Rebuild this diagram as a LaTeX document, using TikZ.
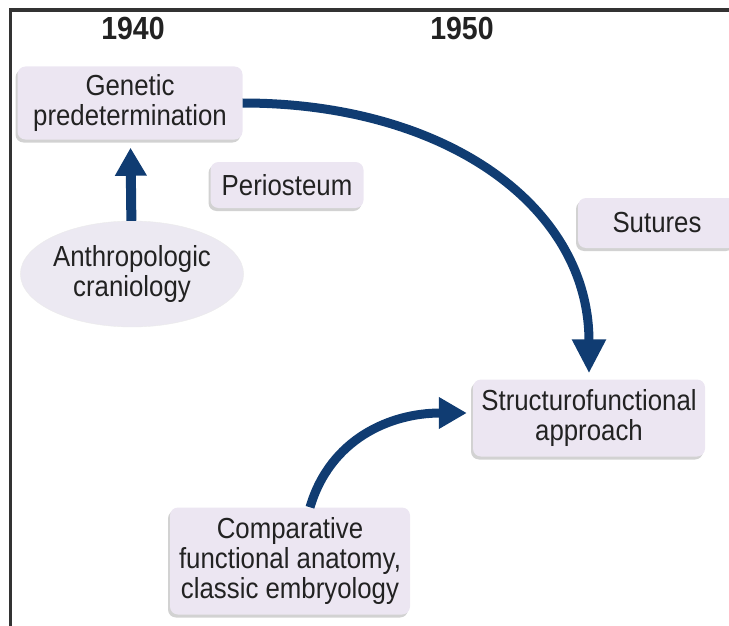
\documentclass[tikz,border=0pt]{standalone}
\usepackage{fontspec}
\setmainfont[FakeStretch=0.89]{Liberation Sans}
\usepackage{xcolor}
\usepackage{tikz}
\usetikzlibrary{shadows}
\usetikzlibrary{positioning}
\usetikzlibrary{arrows.meta,shapes}
\definecolor{boxfill}{HTML}{ECE6F2}
\definecolor{ovalfill}{HTML}{ECE9F2}
\definecolor{arrowblue}{HTML}{103C72}
\definecolor{txt}{HTML}{222222}
\tikzstyle{box}=[rectangle,rounded corners=8pt,fill=boxfill,text=txt,align=center,inner sep=0pt,font=\fontsize{29}{30}\selectfont,drop shadow={shadow xshift=-2pt,shadow yshift=-3pt,fill=black!35,opacity=0.5}]
\tikzstyle{oval}=[ellipse,fill=ovalfill,draw=black!8,text=txt,align=center,inner sep=0pt,font=\fontsize{29}{30}\selectfont]
\tikzstyle{edge} = [draw=arrowblue,line width=10pt,-{Triangle[width=30pt,length=28pt]}]
\tikzstyle{year} = [font=\fontsize{32}{34}\selectfont\bfseries,text=txt]

\begin{document}
\begin{tikzpicture}[x=1pt,y=-1pt]

  \useasboundingbox (0,0) rectangle (729,626);
  \draw[line width=3.5pt,black!80] (10.5,626) -- (10.5,10) -- (729,10);

  \node[year] (y1940) at (133,28) {1940};
  \node[year] (y1950) at (462,28) {1950};

   \foreach \x/\y/\w/\h/\name/\label in {130/103/225/73/gen/{Genetic\\predetermination},
          287/185/153/46/peri/{Periosteum}, 657/223/158/50/sut/{Sutures},
          589/418/232/77/struct/{Structurofunctional\\approach},
          290/561/240/107/comp/{Comparative\\functional anatomy,\\classic embryology}}
          \node[box, minimum width=\w pt, minimum height=\h pt] (\name) at (\x,\y) {\label};

   \node[oval, minimum width=220pt, minimum height=106pt] (anth) at (132,274) {Anthropologic\\craniology};

  \path[edge, shorten >=8pt] (anth) -- (gen);
  \path[edge, line width=9pt, shorten >=6pt, -{Triangle[width=32pt,length=34pt]}] (gen.east) .. controls +(203,0) and +(0,-173) .. (struct.north);
  \path[edge, line width=9pt, shorten >=6pt] ([xshift=20pt]comp.north) .. controls +(20,-68) and +(-83,0) .. ([yshift=5pt]struct.west);

   \end{tikzpicture}
\end{document}
